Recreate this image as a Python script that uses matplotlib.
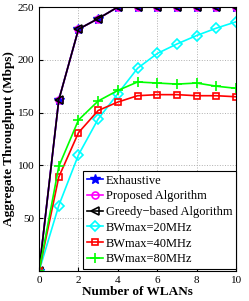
import numpy as np
import matplotlib
matplotlib.use('Agg')
import matplotlib.pyplot as plt

plt.rcParams['font.family'] = ['Liberation Serif', 'DejaVu Serif']

# Data
n_wlans = np.arange(0, 11)
exhaustive = [0, 162, 229, 239, 250, 250, 250, 250, 250, 250, 250]
proposed = [0, 162, 229, 239, 250, 250, 250, 250, 250, 250, 250]
greedy = [0, 162, 229, 239, 250, 250, 250, 250, 250, 250, 250]
bw20 = [0, 62, 110, 144, 168, 192, 206, 215, 223, 230, 236]
bw40 = [0, 89, 131, 152, 160, 166, 167, 167, 166, 166, 165]
bw80 = [0, 99, 143, 161, 171, 179, 178, 177, 178, 175, 173]

fig = plt.figure(figsize=(2.49, 3.01), dpi=100)
ax = fig.add_axes([0.157, 0.0997, 0.791, 0.877])

ax.plot(n_wlans, exhaustive, color='blue', marker='*', markersize=7, lw=1.2,
        label='Exhaustive')
ax.plot(n_wlans, proposed, color='magenta', marker='o', markersize=5, lw=1.2,
        mfc='none', mew=1.2, label='Proposed Algorithm')
ax.plot(n_wlans, greedy, color='black', marker='<', markersize=6, lw=1.2,
        mfc='none', mew=1.2, label='Greedy\u2212based Algorithm')
ax.plot(n_wlans, bw20, color='cyan', marker='D', markersize=5, lw=1.2,
        mfc='none', mew=1.2, label='BWmax=20MHz')
ax.plot(n_wlans, bw40, color='red', marker='s', markersize=5, lw=1.2,
        mfc='none', mew=1.2, label='BWmax=40MHz')
ax.plot(n_wlans, bw80, color='lime', marker='+', markersize=7, lw=1.2,
        mew=1.2, label='BWmax=80MHz')

ax.set_xlim(0, 10)
ax.set_ylim(0, 250)
ax.set_xticks([0, 2, 4, 6, 8, 10])
ax.set_yticks([0, 50, 100, 150, 200, 250])
ax.set_yticklabels(['', '50', '100', '150', '200', '250'])
ax.tick_params(labelsize=8, direction='in', length=3)
ax.grid(True, linestyle=':', color='#b0b0b0', lw=0.7)

ax.set_xlabel('Number of WLANs', fontsize=9.5, fontweight='bold', labelpad=1)
ax.set_ylabel('Aggregate Throughput (Mbps)', fontsize=9.5, fontweight='bold', labelpad=2)

leg = ax.legend(loc='lower right', bbox_to_anchor=(1.01, 0.0), fontsize=9,
                handlelength=1.3, handletextpad=0.2, borderpad=0.3,
                labelspacing=0.3, borderaxespad=0.15, fancybox=False,
                edgecolor='black', framealpha=1)
leg.get_frame().set_linewidth(0.8)

fig.savefig('out.png', dpi=100)
